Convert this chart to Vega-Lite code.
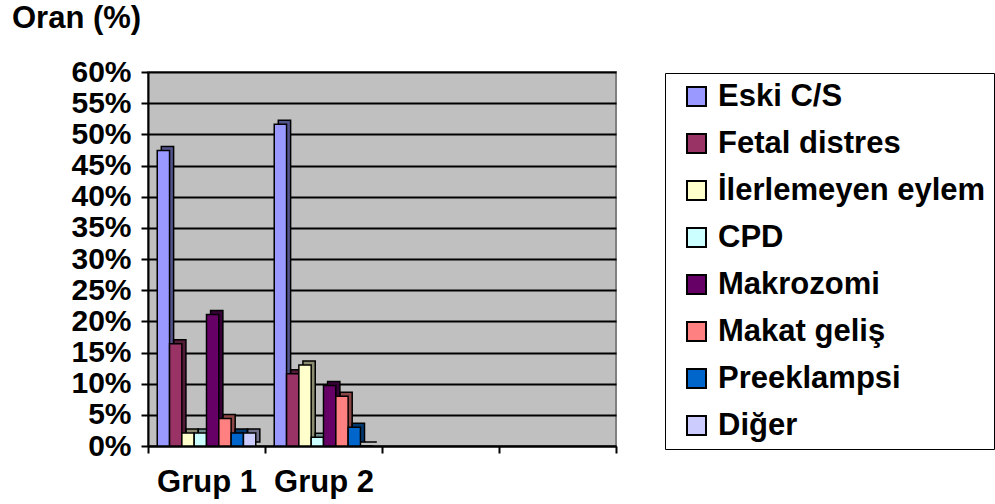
{
  "$schema": "https://vega.github.io/schema/vega-lite/v6.json",
  "width": 468,
  "height": 374,
  "autosize": "none",
  "padding": {"left": 148, "top": 72, "right": 379, "bottom": 58},
  "background": "#ffffff",
  "title": {
    "text": "Oran (%)",
    "anchor": "start",
    "frame": "group",
    "dx": -136,
    "offset": 22,
    "font": "Liberation Sans",
    "fontSize": 31,
    "fontWeight": "bold",
    "color": "#000000"
  },
  "config": {
    "view": {"fill": "#C0C0C0", "stroke": "#808080", "strokeWidth": 2},
    "axis": {
      "labelFont": "Liberation Sans",
      "labelFontSize": 30,
      "labelFontWeight": "bold",
      "labelColor": "#000000",
      "domainColor": "#000000",
      "domainWidth": 2,
      "tickColor": "#000000",
      "tickWidth": 2,
      "tickSize": 7,
      "title": null
    },
    "legend": {
      "labelFont": "Liberation Sans",
      "labelFontSize": 31,
      "labelFontWeight": "bold",
      "labelColor": "#000000"
    }
  },
  "data": {
    "values": [
      {"grup": "Grup 1", "neden": "Eski C/S", "oran": 0.474},
      {"grup": "Grup 1", "neden": "Fetal distres", "oran": 0.164},
      {"grup": "Grup 1", "neden": "İlerlemeyen eylem", "oran": 0.021},
      {"grup": "Grup 1", "neden": "CPD", "oran": 0.021},
      {"grup": "Grup 1", "neden": "Makrozomi", "oran": 0.211},
      {"grup": "Grup 1", "neden": "Makat geliş", "oran": 0.044},
      {"grup": "Grup 1", "neden": "Preeklampsi", "oran": 0.021},
      {"grup": "Grup 1", "neden": "Diğer", "oran": 0.021},
      {"grup": "Grup 2", "neden": "Eski C/S", "oran": 0.516},
      {"grup": "Grup 2", "neden": "Fetal distres", "oran": 0.116},
      {"grup": "Grup 2", "neden": "İlerlemeyen eylem", "oran": 0.13},
      {"grup": "Grup 2", "neden": "CPD", "oran": 0.014},
      {"grup": "Grup 2", "neden": "Makrozomi", "oran": 0.097},
      {"grup": "Grup 2", "neden": "Makat geliş", "oran": 0.08},
      {"grup": "Grup 2", "neden": "Preeklampsi", "oran": 0.03},
      {"grup": "Grup 2", "neden": "Diğer", "oran": 0.0}
    ]
  },
  "encoding": {
    "x": {
      "field": "grup",
      "type": "nominal",
      "scale": {"domain": ["Grup 1", "Grup 2", "c3", "c4"], "paddingInner": 0, "paddingOuter": 0},
      "axis": {
        "labelAngle": 0,
        "tickBand": "extent",
        "labelPadding": 14,
        "labelFontSize": 31,
        "labelExpr": "indexof(datum.label, 'Grup') === 0 ? datum.label : ''"
      }
    },
    "y": {
      "field": "oran",
      "type": "quantitative",
      "scale": {"domain": [0, 0.6], "nice": false},
      "axis": {
        "values": [0, 0.05, 0.1, 0.15, 0.2, 0.25, 0.3, 0.35, 0.4, 0.45, 0.5, 0.55, 0.6],
        "format": ".0%",
        "grid": true,
        "gridColor": "#000000",
        "gridWidth": 2,
        "labelPadding": 10
      }
    }
  },
  "resolve": {"scale": {"xOffset": "independent", "color": "independent"}},
  "layer": [
    {
      "layer": [
        {
          "mark": {"type": "bar", "yOffset": -4, "y2Offset": -4},
          "encoding": {
            "color": {
              "field": "neden",
              "type": "nominal",
              "scale": {
                "domain": ["Eski C/S", "Fetal distres", "İlerlemeyen eylem", "CPD", "Makrozomi", "Makat geliş", "Preeklampsi", "Diğer"],
                "range": ["#9999FF", "#993366", "#FFFFCC", "#CCFFFF", "#660066", "#FF8080", "#0066CC", "#CCCCFF"]
              },
              "legend": null
            }
          }
        },
        {
          "mark": {"type": "bar", "yOffset": -4, "y2Offset": -4, "fill": "#000000", "fillOpacity": 0.45, "stroke": "#000000", "strokeWidth": 1.5, "strokeOpacity": 1}
        }
      ],
      "encoding": {
        "xOffset": {
          "field": "neden",
          "type": "nominal",
          "sort": ["Eski C/S", "Fetal distres", "İlerlemeyen eylem", "CPD", "Makrozomi", "Makat geliş", "Preeklampsi", "Diğer"],
          "scale": {"paddingInner": 0, "paddingOuter": 0.75, "align": 0.72}
        }
      }
    },
    {
      "mark": {"type": "bar", "stroke": "#000000", "strokeWidth": 1.5},
      "encoding": {
        "xOffset": {
          "field": "neden",
          "type": "nominal",
          "sort": ["Eski C/S", "Fetal distres", "İlerlemeyen eylem", "CPD", "Makrozomi", "Makat geliş", "Preeklampsi", "Diğer"],
          "scale": {"paddingInner": 0, "paddingOuter": 0.75, "align": 0.5}
        },
        "color": {
          "field": "neden",
          "type": "nominal",
          "scale": {
            "domain": ["Eski C/S", "Fetal distres", "İlerlemeyen eylem", "CPD", "Makrozomi", "Makat geliş", "Preeklampsi", "Diğer"],
            "range": ["#9999FF", "#993366", "#FFFFCC", "#CCFFFF", "#660066", "#FF8080", "#0066CC", "#CCCCFF"]
          },
          "legend": {
            "title": null,
            "orient": "none",
            "legendX": 517,
            "legendY": 1,
            "symbolType": "square",
            "symbolSize": 361,
            "symbolStrokeColor": "#000000",
            "symbolStrokeWidth": 2,
            "symbolOffset": 8,
            "labelOffset": 6,
            "rowPadding": 15,
            "padding": 8,
            "strokeColor": "#000000",
            "labelLimit": 400
          }
        }
      }
    }
  ]
}
